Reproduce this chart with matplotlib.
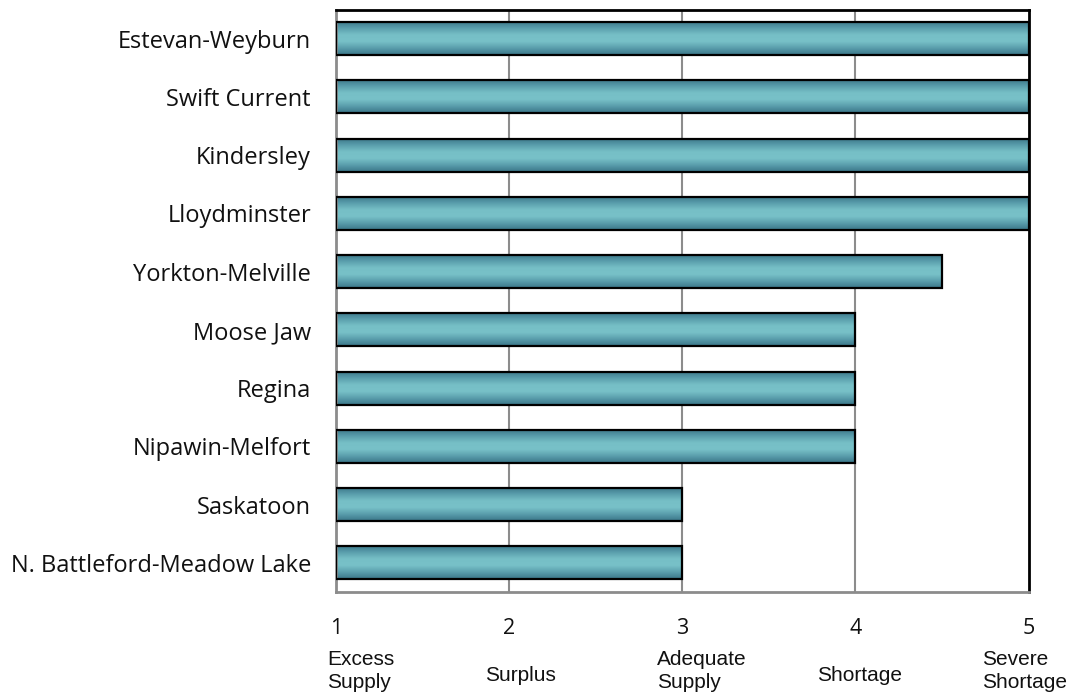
import numpy as np
import matplotlib.pyplot as plt
from matplotlib.colors import LinearSegmentedColormap

# data (top to bottom as shown)
regions = ['Estevan-Weyburn', 'Swift Current', 'Kindersley', 'Lloydminster',
           'Yorkton-Melville', 'Moose Jaw', 'Regina', 'Nipawin-Melfort',
           'Saskatoon', 'N. Battleford-Meadow Lake']
scores = [5, 5, 5, 5, 4.5, 4, 4, 4, 3, 3]
tick_vals = [1, 2, 3, 4, 5]
tick_desc = [['Excess', 'Supply'], ['Surplus'], ['Adequate', 'Supply'],
             ['Shortage'], ['Severe', 'Shortage']]

W, H = 1070, 694
fig = plt.figure(figsize=(W / 100, H / 100), dpi=100)
ax = fig.add_axes([336 / W, 1 - 592 / H, (1028.5 - 336) / W, (592 - 9.5) / H])

grad_cmap = LinearSegmentedColormap.from_list(
    'bar', ['#3b7689', '#5a9eac', '#76bfc6', '#78c1c8', '#5a9eac', '#3b7689'])
grad = np.linspace(0, 1, 64).reshape(-1, 1)

ypos = np.arange(len(regions))[::-1]
bar_h = 0.57
bars = ax.barh(ypos, np.array(scores) - 1, left=1, height=bar_h,
               facecolor='none', edgecolor='black', linewidth=1.6, zorder=3)
for b in bars:
    x0, y0 = b.get_x(), b.get_y()
    w, h = b.get_width(), b.get_height()
    im = ax.imshow(grad, cmap=grad_cmap, aspect='auto',
                   extent=(x0, x0 + w, y0, y0 + h), zorder=2,
                   interpolation='bicubic')
    im.set_clip_path(b)

ax.set_xlim(1, 5)
ax.set_ylim(-0.5, len(regions) - 0.5)
ax.set_yticks(ypos)
ax.set_yticklabels(regions, fontsize=17, family='Open Sans', color='#111111')
ax.set_xticks(tick_vals)
ax.set_xticklabels([str(v) for v in tick_vals], fontsize=15.5, family='Open Sans',
                   color='#111111')
ax.tick_params(axis='both', length=0)
ax.tick_params(axis='y', pad=18)
ax.tick_params(axis='x', pad=18.5)

for v in [2, 3, 4]:
    ax.axvline(v, color='#8c8c8c', lw=1.5, zorder=1)

for s in ['left', 'bottom']:
    ax.spines[s].set_color('#8c8c8c')
    ax.spines[s].set_linewidth(2)
for s in ['top', 'right']:
    ax.spines[s].set_color('black')
    ax.spines[s].set_linewidth(2)

# descriptor text boxes under the numbers (left edge px, baseline px)
desc_left = [327, 485, 657, 817, 982]
for lines, xl in zip(tick_desc, desc_left):
    baselines = [665, 688] if len(lines) == 2 else [681]
    for txt, yb in zip(lines, baselines):
        fig.text(xl / W, 1 - yb / H, txt, ha='left', va='baseline',
                 fontsize=15, family='Liberation Sans', color='#111111')

fig.savefig('out.png', dpi=100)
